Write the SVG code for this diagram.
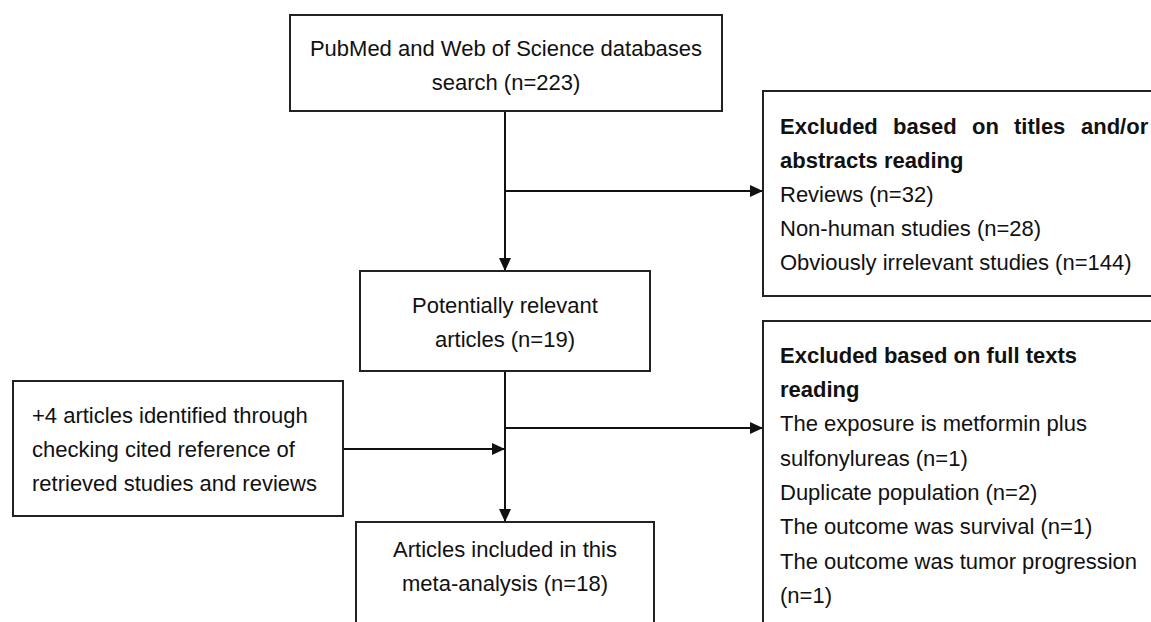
<svg xmlns="http://www.w3.org/2000/svg" width="1151" height="622" viewBox="0 0 1151 622">
  <style>
    .box { fill: #ffffff; stroke: #222222; stroke-width: 2; }
    .t { font-family: "Liberation Sans", Arial, sans-serif; font-size: 22px; fill: #111111; }
    .c { text-anchor: middle; }
    .b { font-weight: bold; }
    .conn { stroke: #111111; stroke-width: 2; fill: none; }
  </style>
  <defs>
    <marker id="arrow" markerUnits="userSpaceOnUse" markerWidth="14" markerHeight="12" refX="13" refY="6" orient="auto">
      <path d="M0,0 L13,6 L0,12 z" fill="#111111"/>
    </marker>
  </defs>
  <rect width="1151" height="622" fill="#ffffff"/>

  <g id="connectors">
    <line class="conn" x1="505" y1="111" x2="505" y2="271" marker-end="url(#arrow)"/>
    <line class="conn" x1="505" y1="191" x2="763" y2="191" marker-end="url(#arrow)"/>
    <line class="conn" x1="505" y1="371" x2="505" y2="522" marker-end="url(#arrow)"/>
    <line class="conn" x1="505" y1="428" x2="763" y2="428" marker-end="url(#arrow)"/>
    <line class="conn" x1="343" y1="449" x2="505" y2="449" marker-end="url(#arrow)"/>
  </g>

  <g id="search">
    <rect class="box" x="290" y="15" width="432" height="96"/>
    <text class="t c" x="506" y="56">PubMed and Web of Science databases</text>
    <text class="t c" x="506" y="90">search (n=223)</text>
  </g>

  <g id="excluded-titles">
    <rect class="box" x="763" y="91" width="400" height="205"/>
    <text class="t b" y="134"><tspan x="780">Excluded</tspan><tspan x="893">based</tspan><tspan x="972">on</tspan><tspan x="1014">titles</tspan><tspan x="1081">and/or</tspan></text>
    <text class="t b" x="780" y="168">abstracts reading</text>
    <text class="t" x="780" y="202">Reviews (n=32)</text>
    <text class="t" x="780" y="236">Non-human studies (n=28)</text>
    <text class="t" x="780" y="270">Obviously irrelevant studies (n=144)</text>
  </g>

  <g id="potentially-relevant">
    <rect class="box" x="360" y="271" width="290" height="100"/>
    <text class="t c" x="505" y="313">Potentially relevant</text>
    <text class="t c" x="505" y="347">articles (n=19)</text>
  </g>

  <g id="excluded-full">
    <rect class="box" x="763" y="321" width="400" height="320"/>
    <text class="t b" x="780" y="363">Excluded based on full texts</text>
    <text class="t b" x="780" y="397">reading</text>
    <text class="t" x="780" y="431">The exposure is metformin plus</text>
    <text class="t" x="780" y="466">sulfonylureas (n=1)</text>
    <text class="t" x="780" y="500">Duplicate population (n=2)</text>
    <text class="t" x="780" y="534">The outcome was survival (n=1)</text>
    <text class="t" x="780" y="569">The outcome was tumor progression</text>
    <text class="t" x="780" y="603">(n=1)</text>
  </g>

  <g id="additional">
    <rect class="box" x="13" y="381" width="330" height="135"/>
    <text class="t" x="32" y="423">+4 articles identified through</text>
    <text class="t" x="32" y="457">checking cited reference of</text>
    <text class="t" x="32" y="491">retrieved studies and reviews</text>
  </g>

  <g id="included">
    <rect class="box" x="356" y="522" width="298" height="120"/>
    <text class="t c" x="505" y="557">Articles included in this</text>
    <text class="t c" x="505" y="591">meta-analysis (n=18)</text>
  </g>
</svg>
